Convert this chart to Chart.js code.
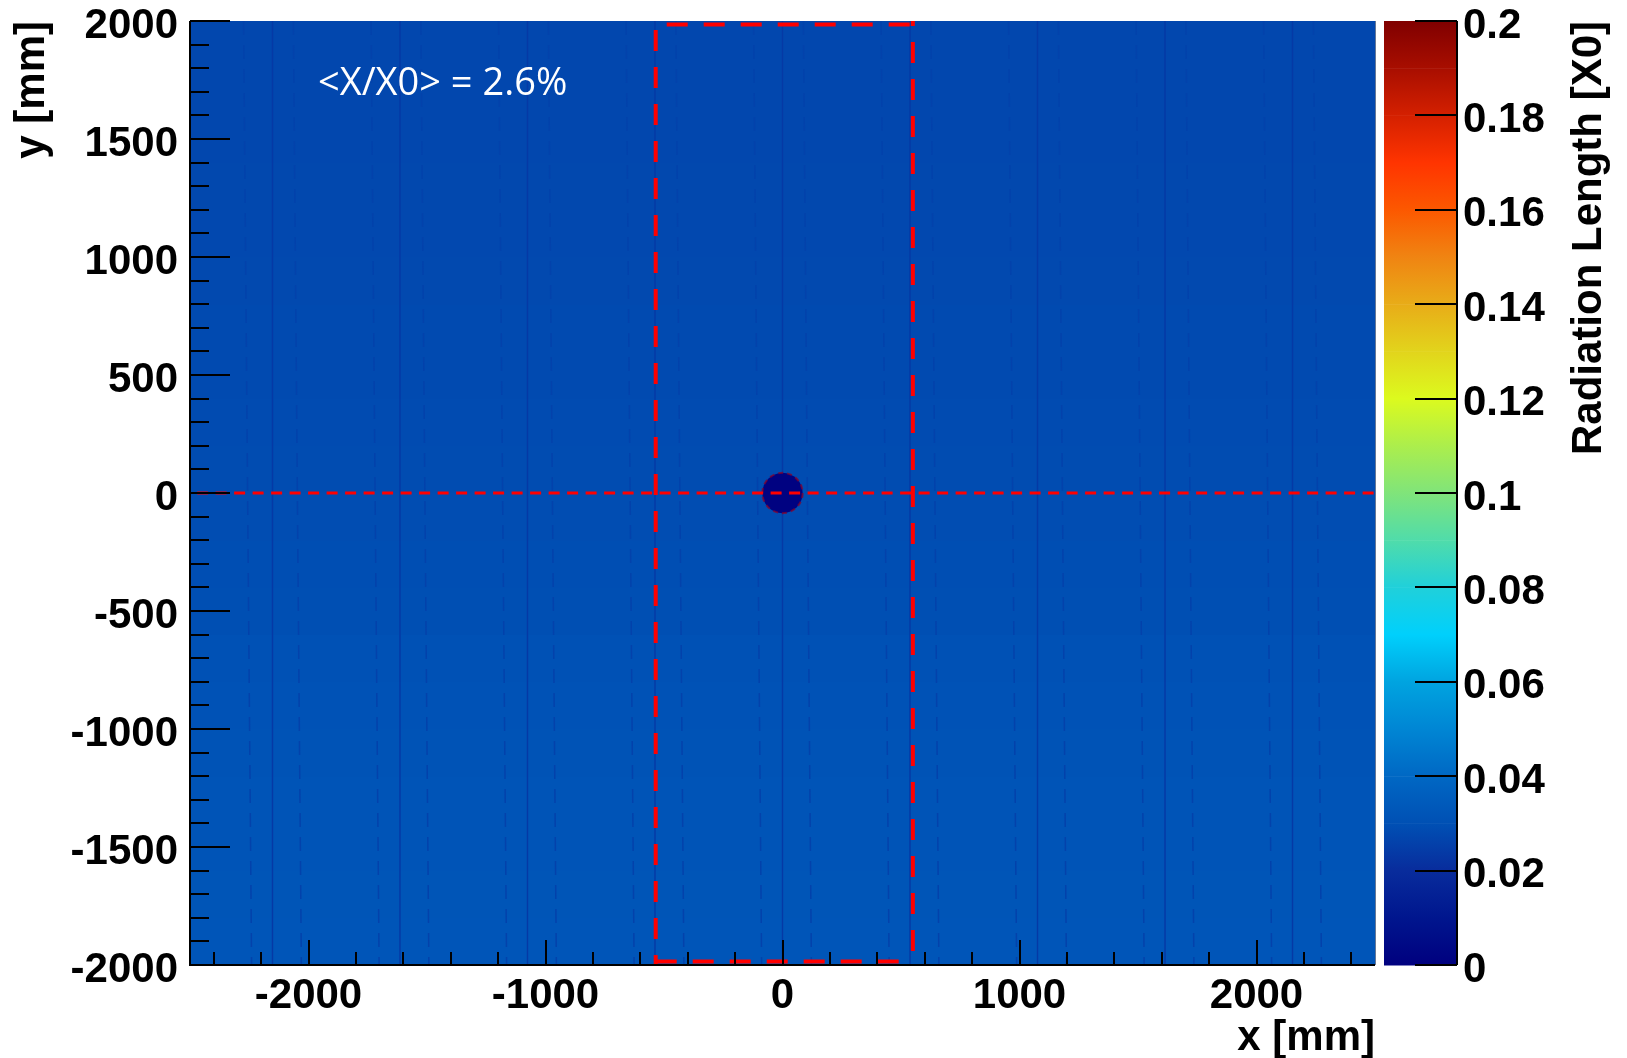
<!DOCTYPE html>
<html>
<head>
<meta charset="utf-8">
<script src="https://cdn.jsdelivr.net/npm/chart.js@4.4.0/dist/chart.umd.min.js"></script>
<style>
    html, body { margin: 0; padding: 0; background: #ffffff; }
    #caixa { width: 1627px; height: 1058px; }
</style>
</head>
<body>
<div id="caixa"><canvas id="mapaMaterial" width="1627" height="1058"></canvas></div>
<script>
// axis ranges (mm) and colour scale range (X0)
const xRange = [-2500, 2500];
const yRange = [-2000, 2000];
const zRange = [0, 0.2];

const xTickValues = [-2000, -1000, 0, 1000, 2000];
const yTickValues = [-2000, -1500, -1000, -500, 0, 500, 1000, 1500, 2000];
const zTickValues = [0, 0.02, 0.04, 0.06, 0.08, 0.1, 0.12, 0.14, 0.16, 0.18, 0.2];

// material map: rows of 200 mm in y, from bottom to top
const yBinEdges = [-2000, -1800, -1600, -1400, -1200, -1000, -800, -600, -400, -200, 0,
                   200, 400, 600, 800, 1000, 1200, 1400, 1600, 1800, 2000];
const rowValues = [0.0322, 0.0320, 0.0318, 0.0316, 0.0313, 0.0310, 0.0306, 0.0297, 0.0294, 0.0291,
                   0.0288, 0.0286, 0.0284, 0.0282, 0.0280, 0.0279, 0.0277, 0.0276, 0.0275, 0.0274];

// thin vertical structures (stave edges) and their faint side shadows
const staveX = [-2152, -1614, -1076, -538, 0, 538, 1076, 1614, 2152];
const staveValue = 0.0236;
const shadowOffsets = [-105, 105];
const shadowValue = 0.0262;

// beam pipe in the centre
const pipeCenter = [0, 0];
const pipeRadius = 85;
const pipeValue = 0.001;

// red dashed region
const boxX = [-535, 550];
const boxY = [-1985, 1985];
const midLineX = [-2470, 2500];

// colour palette of the z scale
const paletteStops = [0, 0.01, 0.02, 0.03, 0.04, 0.05, 0.06, 0.07, 0.08, 0.09, 0.1,
                      0.11, 0.12, 0.13, 0.14, 0.15, 0.16, 0.17, 0.18, 0.19, 0.2];
const paletteColors = ['#00007f', '#00168e', '#082c9c', '#0050b4', '#0068c4', '#0086d4', '#00a4e0',
                       '#00d0fc', '#20d0da', '#50dcaa', '#80e47a', '#acee4c', '#dcfa1e', '#e2d41c',
                       '#e8ac18', '#f08412', '#fc5800', '#ff3400', '#d42000', '#a80e00', '#800000'];

const meanText = '<X/X0> = 2.6%';
const meanPos = [-1960, 1686];

const fonteEixo = "'Liberation Sans', Arial, Helvetica, sans-serif";

function hexParaRgb(h) {
    return [parseInt(h.slice(1, 3), 16), parseInt(h.slice(3, 5), 16), parseInt(h.slice(5, 7), 16)];
}

function corDoValor(v) {
    if (v <= paletteStops[0]) return paletteColors[0];
    for (let i = 1; i < paletteStops.length; i++) {
        if (v <= paletteStops[i]) {
            const t = (v - paletteStops[i - 1]) / (paletteStops[i] - paletteStops[i - 1]);
            const a = hexParaRgb(paletteColors[i - 1]);
            const b = hexParaRgb(paletteColors[i]);
            const c = a.map((ca, k) => Math.round(ca + (b[k] - ca) * t));
            return `rgb(${c[0]}, ${c[1]}, ${c[2]})`;
        }
    }
    return paletteColors[paletteColors.length - 1];
}

// heat map cells, drawn under the red lines
const mapaPlugin = {
    id: 'mapaPlugin',
    beforeDatasetsDraw(chart) {
        const { ctx, chartArea: a, scales: { x, y } } = chart;
        ctx.save();
        ctx.beginPath();
        ctx.rect(a.left, a.top, a.right - a.left, a.bottom - a.top);
        ctx.clip();

        const xl = x.getPixelForValue(xRange[0]);
        const xr = x.getPixelForValue(xRange[1]);
        for (let i = 0; i < rowValues.length; i++) {
            const yTop = Math.floor(y.getPixelForValue(yBinEdges[i + 1]));
            const yBot = Math.ceil(y.getPixelForValue(yBinEdges[i]));
            ctx.fillStyle = corDoValor(rowValues[i]);
            ctx.fillRect(xl, yTop, xr - xl, yBot - yTop);
        }

        // faint dashed shadows beside each stave
        ctx.strokeStyle = corDoValor(shadowValue);
        ctx.lineWidth = 1.5;
        ctx.setLineDash([14, 10]);
        staveX.forEach(sx => {
            shadowOffsets.forEach(off => {
                const p = x.getPixelForValue(sx + off);
                ctx.beginPath();
                ctx.moveTo(p - 4, a.top);
                ctx.lineTo(p + 4, a.bottom);
                ctx.stroke();
            });
        });
        ctx.setLineDash([]);

        ctx.fillStyle = corDoValor(staveValue);
        staveX.forEach(sx => {
            const p0 = x.getPixelForValue(sx - 3);
            const p1 = x.getPixelForValue(sx + 3);
            ctx.fillRect(p0, a.top, p1 - p0, a.bottom - a.top);
        });

        // beam pipe
        const cx = x.getPixelForValue(pipeCenter[0]);
        const cy = y.getPixelForValue(pipeCenter[1]);
        const r = x.getPixelForValue(pipeCenter[0] + pipeRadius) - cx;
        ctx.fillStyle = corDoValor(pipeValue);
        ctx.beginPath();
        ctx.arc(cx, cy, r, 0, Math.PI * 2);
        ctx.fill();
        ctx.strokeStyle = 'rgba(140, 0, 40, 0.7)';
        ctx.lineWidth = 2;
        ctx.setLineDash([5, 4]);
        ctx.stroke();
        ctx.restore();
    },
    afterDatasetsDraw(chart) {
        const { ctx, scales: { x, y } } = chart;
        ctx.save();
        ctx.fillStyle = '#ffffff';
        ctx.font = "38px 'Open Sans', sans-serif";
        ctx.textAlign = 'left';
        ctx.textBaseline = 'alphabetic';
        ctx.fillText(meanText, x.getPixelForValue(meanPos[0]), y.getPixelForValue(meanPos[1]));
        ctx.restore();
    }
};

// ROOT style frame: inner ticks, colour bar and axis titles
const molduraPlugin = {
    id: 'molduraPlugin',
    afterDraw(chart) {
        const { ctx, chartArea: a, scales: { x, y, z } } = chart;
        ctx.save();
        ctx.strokeStyle = '#000000';
        ctx.lineWidth = 2;

        // y ticks (major 500, minor 100)
        for (let v = yRange[0]; v <= yRange[1]; v += 100) {
            const py = Math.round(y.getPixelForValue(v));
            const len = yTickValues.includes(v) ? 40 : 19;
            ctx.beginPath();
            ctx.moveTo(a.left, py);
            ctx.lineTo(a.left + len, py);
            ctx.stroke();
        }
        // x ticks (major 1000, minor 200)
        for (let v = -2400; v <= 2400; v += 200) {
            const px = Math.round(x.getPixelForValue(v));
            const len = xTickValues.includes(v) ? 25 : 13;
            ctx.beginPath();
            ctx.moveTo(px, a.bottom);
            ctx.lineTo(px, a.bottom - len);
            ctx.stroke();
        }
        // frame
        ctx.beginPath();
        ctx.moveTo(a.left, a.top);
        ctx.lineTo(a.left, a.bottom);
        ctx.lineTo(a.right, a.bottom);
        ctx.stroke();
        ctx.lineWidth = 1;
        ctx.strokeStyle = 'rgba(0, 30, 80, 0.6)';
        ctx.beginPath();
        ctx.moveTo(a.right + 0.5, a.top);
        ctx.lineTo(a.right + 0.5, a.bottom);
        ctx.stroke();

        // colour bar
        const cbLeft = z.left + 9;
        const cbRight = z.left + 82;
        for (let i = 0; i < paletteStops.length - 1; i++) {
            const p0 = z.getPixelForValue(paletteStops[i]);
            const p1 = z.getPixelForValue(paletteStops[i + 1]);
            const g = ctx.createLinearGradient(0, p0, 0, p1);
            g.addColorStop(0, paletteColors[i]);
            g.addColorStop(1, paletteColors[i + 1]);
            ctx.fillStyle = g;
            ctx.fillRect(cbLeft, p1, cbRight - cbLeft, p0 - p1 + 0.5);
        }
        ctx.strokeStyle = '#000000';
        ctx.lineWidth = 2;
        ctx.beginPath();
        ctx.moveTo(cbRight, z.getPixelForValue(zRange[1]));
        ctx.lineTo(cbRight, z.getPixelForValue(zRange[0]));
        ctx.stroke();
        zTickValues.forEach(v => {
            const py = Math.round(z.getPixelForValue(v));
            ctx.beginPath();
            ctx.moveTo(cbRight, py);
            ctx.lineTo(cbRight - 42, py);
            ctx.stroke();
        });

        // axis titles
        ctx.fillStyle = '#000000';
        ctx.font = 'bold 42px ' + fonteEixo;
        ctx.textBaseline = 'alphabetic';
        ctx.textAlign = 'right';
        ctx.fillText('x [mm]', a.right, 1050);

        ctx.save();
        ctx.translate(44, a.top);
        ctx.rotate(-Math.PI / 2);
        ctx.fillText('y [mm]', 0, 0);
        ctx.restore();

        ctx.save();
        ctx.translate(1601, a.top);
        ctx.rotate(-Math.PI / 2);
        ctx.fillText('Radiation Length [X0]', 0, 0);
        ctx.restore();

        ctx.restore();
    }
};

const fonteTicks = { family: fonteEixo, size: 42, weight: 'bold' };

// Chart.js adds the tick padding to the label overhang; the frame here is fixed
function semFolgaVertical(s, largura) {
    s.width = largura;
    s.paddingTop = 0;
    s.paddingBottom = 0;
}

document.addEventListener('DOMContentLoaded', () => {
    const ctx = document.getElementById('mapaMaterial').getContext('2d');
    const linhaCorte = {
        showLine: true,
        pointRadius: 0,
        borderColor: '#ff0000',
        borderWidth: 4,
        borderDash: [21, 16],
        fill: false
    };
    window.mapaMaterial = new Chart(ctx, {
        type: 'scatter',
        data: {
            datasets: [
                { ...linhaCorte, borderDashOffset: 28, data: [{ x: boxX[0], y: yRange[1] }, { x: boxX[0], y: yRange[0] }] },
                { ...linhaCorte, borderDashOffset: 16, data: [{ x: boxX[1], y: yRange[1] }, { x: boxX[1], y: yRange[0] }] },
                { ...linhaCorte, borderDashOffset: 26, data: [{ x: boxX[0], y: boxY[1] }, { x: boxX[1], y: boxY[1] }] },
                { ...linhaCorte, borderDashOffset: 0, data: [{ x: boxX[0], y: boxY[0] }, { x: boxX[1], y: boxY[0] }] },
                { ...linhaCorte, borderWidth: 3, borderDash: [11, 7.5], data: [{ x: midLineX[0], y: 0 }, { x: midLineX[1], y: 0 }] }
            ]
        },
        options: {
            responsive: false,
            devicePixelRatio: 1,
            animation: false,
            layout: { padding: { left: 0, right: 0, top: 21, bottom: 0 } },
            plugins: {
                legend: { display: false },
                tooltip: { enabled: false }
            },
            scales: {
                x: {
                    type: 'linear',
                    position: 'bottom',
                    min: xRange[0],
                    max: xRange[1],
                    grid: { display: false, drawTicks: false },
                    border: { display: false },
                    ticks: {
                        font: fonteTicks,
                        color: '#000000',
                        padding: 6,
                        maxRotation: 0,
                        autoSkip: false,
                        callback: v => String(v)
                    },
                    afterBuildTicks: s => { s.ticks = xTickValues.map(v => ({ value: v })); },
                    afterFit: s => {
                        s.height = 93;
                        s.paddingLeft = 0;
                        s.paddingRight = 0;
                    }
                },
                y: {
                    type: 'linear',
                    position: 'left',
                    min: yRange[0],
                    max: yRange[1],
                    grid: { display: false, drawTicks: false },
                    border: { display: false },
                    ticks: {
                        font: fonteTicks,
                        color: '#000000',
                        padding: 12,
                        labelOffset: 5,
                        autoSkip: false,
                        callback: v => String(v)
                    },
                    afterBuildTicks: s => { s.ticks = yTickValues.map(v => ({ value: v })); },
                    afterFit: s => semFolgaVertical(s, 190)
                },
                z: {
                    type: 'linear',
                    axis: 'y',
                    position: 'right',
                    min: zRange[0],
                    max: zRange[1],
                    grid: { display: false, drawTicks: false },
                    border: { display: false },
                    ticks: {
                        font: fonteTicks,
                        color: '#000000',
                        padding: 88,
                        labelOffset: 5,
                        autoSkip: false,
                        callback: v => String(v)
                    },
                    afterBuildTicks: s => { s.ticks = zTickValues.map(v => ({ value: v })); },
                    afterFit: s => semFolgaVertical(s, 252)
                }
            }
        },
        plugins: [mapaPlugin, molduraPlugin]
    });
});
</script>
</body>
</html>
